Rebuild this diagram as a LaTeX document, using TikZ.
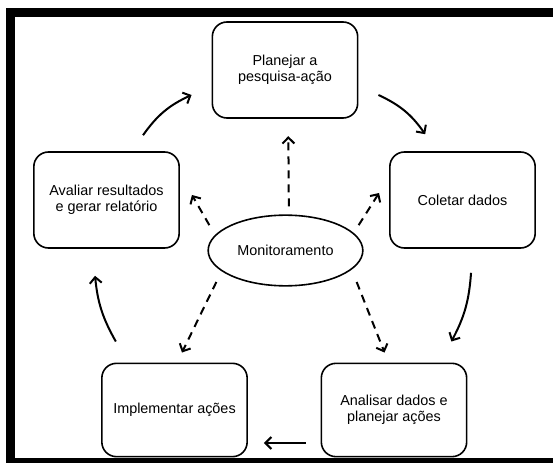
\documentclass[tikz,border=0pt]{standalone}
\usepackage{fontspec}
\setsansfont{Liberation Sans}
\usetikzlibrary{arrows.meta,shapes.geometric}

\begin{document}
\begin{tikzpicture}[x=0.75pt,y=-0.75pt,
    stage/.style={draw,line width=1.2pt,rounded corners=11pt,align=center,
      minimum width=109pt,minimum height=72pt,inner sep=2pt,
      font=\sffamily\fontsize{10.8}{12}\selectfont},
    cyc/.style={line width=1.5pt,-{Straight Barb[length=4.5pt,width=9pt,line width=1.5pt]}},
    watch/.style={line width=1.5pt,dash pattern=on 6pt off 4.5pt,
      -{Straight Barb[length=4.5pt,width=9pt,line width=1.5pt]}}]
    \useasboundingbox (0,0) rectangle (553,463);
    % frame
    \fill (6,8) rectangle (553,17);
    \fill (6,8) rectangle (15,463);
    \fill (6,458) rectangle (553,463);
    % stages of the cycle
    \node[stage] (plan) at (285,70) {Planejar a\\pesquisa-ação};
    \node[stage] (coleta) at (462.5,200) {Coletar dados};
    \node[stage,minimum height=70pt] (analise) at (394,410) {Analisar dados e\\planejar ações};
    \node[stage,minimum height=70pt] (impl) at (174.5,410) {Implementar ações};
    \node[stage] (aval) at (106.5,200) {Avaliar resultados\\e gerar relatório};
    \node[draw,ellipse,line width=1.2pt,minimum width=116pt,minimum height=53pt,
      inner sep=0pt,font=\sffamily\fontsize{10.8}{12}\selectfont] (mon) at (285.5,250.5) {Monitoramento};
    % cycle
    \draw[cyc] ([xshift=27.4pt,yshift=12pt]aval.north) to[bend left=15]
      ([xshift=-15pt,yshift=-18.75pt]plan.west);
    \draw[cyc] ([xshift=15pt,yshift=-18.75pt]plan.east) to[bend left=15]
      ([xshift=-28pt,yshift=12.75pt]coleta.north);
    \draw[cyc] ([xshift=6.4pt,yshift=-18pt]coleta.south) to[bend left=12]
      ([xshift=43pt,yshift=15.75pt]analise.north);
    \draw[cyc] ([xshift=-11pt,yshift=-24.75pt]analise.west) --
      ([xshift=12pt,yshift=-24.75pt]impl.east);
    \draw[cyc] ([xshift=-44pt,yshift=15.75pt]impl.north) to[bend left=12]
      ([xshift=-8.6pt,yshift=-20.25pt]aval.south);
    % monitoring
    \draw[watch] ([xshift=2.5pt,yshift=6pt]mon.north) -- ([xshift=2.5pt,yshift=-13pt]plan.south);
    \draw[watch] ([xshift=-3.75pt,yshift=19pt]mon.east) -- ([xshift=-7.5pt,yshift=5.25pt]coleta.west);
    \draw[watch] ([xshift=1.5pt,yshift=19pt]mon.west) -- ([xshift=9pt,yshift=3.75pt]aval.east);
    \draw[watch] ([xshift=6.75pt,yshift=-23.6pt]mon.west) -- ([xshift=5.6pt,yshift=7.5pt]impl.north);
    \draw[watch] ([xshift=-5.25pt,yshift=-23.6pt]mon.east) -- ([xshift=-7.1pt,yshift=7.5pt]analise.north);
\end{tikzpicture}
\end{document}
